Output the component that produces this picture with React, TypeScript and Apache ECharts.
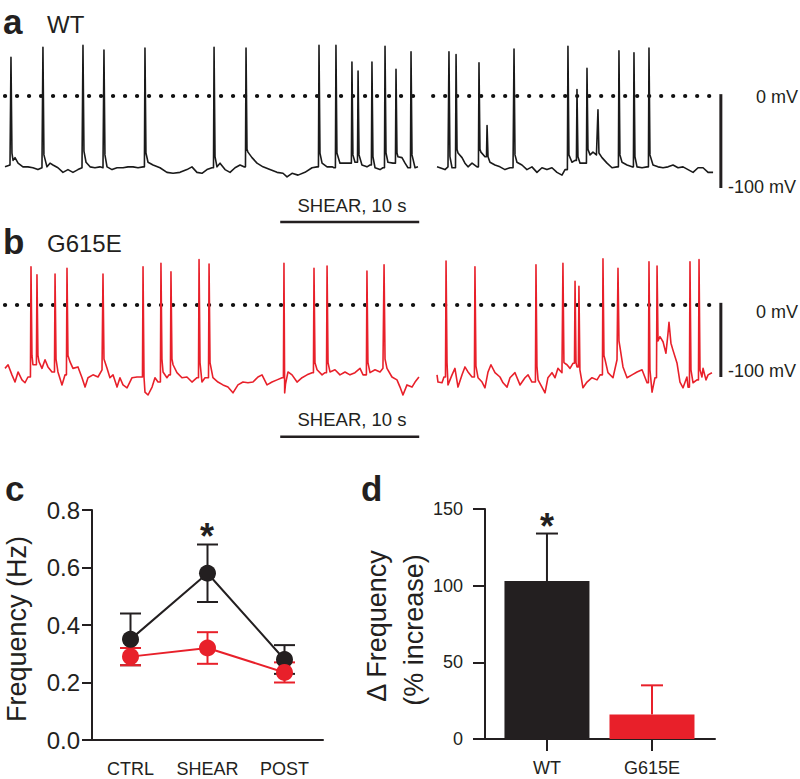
import React, { useEffect, useRef } from "react";
import * as echarts from "echarts";

const FONT = "'Liberation Sans', Arial, Helvetica, sans-serif";
const INK = "#231f20";
const RED = "#e8202a";

// ---- Panel a: WT membrane potential, [time (s), mV] ----
const wtTraceShear = [
  [0.00,-77],[0.36,-75],[0.40,-75],[0.43,42],[0.50,-62],[0.58,-70],[0.72,-67],[0.94,-73],[1.29,-77],[1.65,-77],[2.01,-78],[2.37,-80],[2.66,-78],
  [2.70,-78],[2.73,53],[2.80,-64],[3.02,-77],[3.24,-73],[3.45,-75],[3.81,-78],[4.17,-83],[4.53,-80],[4.89,-83],[5.25,-80],[5.54,-78],
  [5.58,-78],[5.61,55],[5.68,-60],[5.83,-72],[6.12,-77],[6.47,-78],[6.83,-77],[7.05,-78],
  [7.09,-78],[7.12,50],[7.19,-64],[7.34,-77],[7.70,-80],[8.06,-78],[8.49,-78],[8.85,-77],[9.21,-77],[9.57,-78],[9.93,-77],
  [10.03,-77],[10.07,52],[10.14,-62],[10.29,-72],[10.65,-75],[11.15,-78],[11.65,-83],[12.09,-84],[12.59,-83],[13.09,-80],[13.45,-77],[13.81,-83],[14.17,-84],[14.53,-80],[14.89,-78],
  [15.00,-78],[15.04,53],[15.11,-66],[15.25,-77],[15.47,-73],[15.83,-80],[16.19,-83],[16.55,-78],[16.91,-75],[17.19,-77],
  [17.30,-77],[17.34,52],[17.41,-58],[17.48,-61],[17.77,-67],[18.13,-73],[18.56,-77],[19.06,-80],[19.57,-83],[20.00,-84],[20.29,-88],[20.65,-84],[21.08,-86],[21.58,-83],[22.09,-78],[22.45,-77],
  [22.55,-77],[22.59,55],[22.66,-62],[22.81,-73],[23.17,-77],[23.53,-77],[23.67,-78],
  [23.77,-78],[23.81,55],[23.88,-62],[24.10,-73],[24.46,-73],[24.82,-73],
  [24.92,-73],[24.96,37],[25.03,-64],[25.18,-72],[25.36,-72],[25.40,27],[25.47,-64],[25.68,-75],[26.04,-77],[26.26,-75],
  [26.36,-75],[26.40,37],[26.47,-66],[26.62,-78],[26.98,-80],[27.19,-78],
  [27.30,-78],[27.34,54],[27.41,-62],[27.55,-72],[27.91,-73],
  [28.09,-73],[28.13,29],[28.20,-62],[28.27,-66],[28.56,-67],[28.78,-73],[28.99,-78],
  [29.17,-78],[29.21,48],[29.28,-64],[29.50,-78],[29.71,-77]
];
const wtTracePost = [
  [31.08,-77],[31.29,-78],[31.65,-80],[31.87,-77],[31.90,-77],[31.94,48],[32.01,-66],[32.16,-78],[32.41,-78],[32.45,45],[32.52,-58],[32.59,-62],[32.88,-67],[33.09,-73],[33.31,-77],[33.60,-73],[33.96,-77],
  [34.06,-77],[34.10,36],[34.17,-58],[34.24,-61],[34.53,-66],[34.64,-66],[34.68,-32],[34.75,-66],[34.89,-72],[35.25,-75],[35.61,-77],[35.97,-80],[36.33,-78],[36.55,-78],
  [36.58,-78],[36.62,51],[36.69,-64],[36.83,-72],[37.19,-75],[37.55,-80],[37.91,-77],[38.27,-83],[38.63,-78],[38.99,-80],[39.35,-78],[39.71,-83],[40.07,-86],[40.29,-80],
  [40.46,-80],[40.50,54],[40.57,-64],[40.79,-72],[41.01,-70],[41.11,-70],[41.15,7],[41.22,-66],[41.37,-73],[41.73,-73],
  [41.83,-73],[41.87,30],[41.94,-58],[42.09,-64],[42.30,-61],[42.55,-64],[42.59,-64],[42.66,-15],[42.73,-62],[42.95,-67],[43.31,-73],[43.67,-78],[44.03,-77],
  [44.13,-77],[44.17,49],[44.24,-64],[44.39,-72],[44.75,-75],[45.11,-77],
  [45.21,-77],[45.25,47],[45.32,-66],[45.47,-77],[45.83,-78],[46.19,-77],
  [46.29,-77],[46.33,52],[46.40,-64],[46.62,-75],[46.98,-77],[47.34,-78],[47.70,-77],[48.06,-75],[48.42,-78],[48.78,-77],[49.14,-80],[49.50,-83],[49.86,-78],[50.22,-78],[50.58,-83],[50.94,-83]
];

// ---- Panel b: G615E membrane potential, [time (s), mV] ----
const g615eTraceShear = [
  [0.00,-88],[0.22,-83],[0.50,-97],[0.72,-107],[0.94,-93],[1.22,-104],[1.44,-108],[1.65,-100],
  [1.83,-100],[1.87,53],[1.94,-70],[2.01,-83],
  [2.26,-83],[2.30,42],[2.37,-70],[2.45,-79],[2.66,-88],[2.88,-76],[3.09,-86],[3.38,-93],
  [3.56,-93],[3.60,43],[3.67,-75],[3.81,-93],[4.10,-111],[4.32,-97],
  [4.42,-97],[4.46,51],[4.53,-70],[4.68,-79],[4.89,-88],[5.25,-86],[5.54,-101],[5.76,-114],[5.97,-101],[6.33,-97],[6.69,-100],[6.98,-90],
  [7.01,-90],[7.05,43],[7.12,-75],[7.34,-88],[7.55,-101],[7.77,-97],[8.06,-114],[8.27,-101],[8.49,-111],[8.78,-115],[9.14,-101],[9.50,-100],[9.71,-100],
  [9.89,-100],[9.93,53],[10.00,-100],[10.07,-121],[10.29,-125],[10.58,-114],[10.79,-101],[11.01,-107],
  [11.18,-107],[11.22,58],[11.29,-75],[11.37,-93],[11.65,-101],[11.80,-97],
  [11.90,-97],[11.94,46],[12.01,-75],[12.09,-83],[12.37,-94],[12.73,-101],[13.09,-100],[13.45,-107],[13.81,-101],
  [13.92,-101],[13.96,63],[14.03,-80],[14.17,-107],[14.39,-101],
  [14.64,-101],[14.68,57],[14.75,-80],[14.96,-101],[15.32,-107],[15.68,-111],[16.04,-114],[16.40,-122],[16.76,-111],[17.12,-107],[17.48,-108],[17.84,-107],[18.20,-100],[18.49,-97],[18.85,-111],[19.21,-107],[19.57,-104],[19.93,-101],
  [20.03,-101],[20.07,58],[20.12,-122],[20.18,-110],[20.36,-93],[20.65,-97],[21.01,-107],[21.37,-101],[21.73,-97],[22.09,-94],
  [22.19,-94],[22.23,51],[22.30,-80],[22.45,-90],[22.81,-97],[23.02,-94],
  [23.13,-94],[23.17,54],[23.24,-80],[23.38,-93],[23.74,-90],[24.10,-97],[24.46,-93],[24.82,-97],[25.18,-94],[25.54,-88],[25.76,-97],
  [26.00,-97],[26.04,47],[26.11,-80],[26.26,-94],[26.62,-90],[26.98,-93],[27.19,-88],
  [27.23,-88],[27.27,56],[27.34,-75],[27.48,-88],[27.84,-100],[28.20,-104],[28.42,-114],[28.63,-125],[28.92,-111],[29.28,-114],[29.50,-107],[29.78,-100]
];
const g615eTracePost = [
  [31.08,-97],[31.15,-107],[31.44,-108],[31.58,-100],[31.69,-100],[31.73,61],[31.80,-80],[31.87,-111],[32.16,-97],[32.37,-88],[32.59,-114],[32.88,-97],[33.09,-86],[33.31,-93],[33.60,-100],
  [33.77,-100],[33.81,53],[33.88,-85],[34.03,-101],[34.32,-107],[34.53,-115],[34.75,-93],[34.96,-83],[35.25,-94],[35.61,-100],[35.83,-108],[36.12,-114],[36.33,-101],[36.69,-94],[37.05,-111],[37.41,-101],[37.63,-97],[37.91,-107],
  [38.16,-107],[38.20,56],[38.27,-85],[38.35,-104],[38.63,-114],[38.85,-122],[39.06,-101],[39.35,-94],[39.57,-101],[39.78,-88],[40.07,-94],
  [40.10,-94],[40.14,58],[40.21,-80],[40.43,-83],[40.65,-88],[40.86,-81],
  [40.97,-81],[41.01,33],[41.08,-80],[41.15,-86],[41.25,-86],[41.29,26],[41.36,-90],[41.58,-115],[41.87,-107],[42.23,-101],[42.59,-104],[42.81,-97],
  [42.98,-97],[43.02,64],[43.09,-70],[43.17,-76],[43.38,-94],[43.74,-101],[44.03,-76],
  [44.06,-76],[44.10,51],[44.17,-50],[44.24,-58],[44.46,-86],[44.75,-101],[45.11,-97],[45.47,-93],[45.83,-90],[46.19,-108],
  [46.29,-108],[46.33,60],[46.40,-90],[46.55,-121],[46.76,-101],
  [46.87,-101],[46.91,54],[46.98,-50],[47.12,-44],[47.34,-51],[47.55,-67],[47.70,-39],[47.77,-24],[47.91,-53],[48.06,-63],[48.35,-81],[48.56,-107],[48.78,-115],[49.06,-100],[49.14,-114],
  [49.24,-114],[49.28,60],[49.35,-90],[49.50,-108],[49.78,-104],
  [49.89,-104],[49.93,63],[50.00,-90],[50.14,-100],[50.22,-88],[50.43,-104],[50.58,-97],[50.86,-94]
];

const dottedSegments = [[0, 29.7], [30.8, 50.9]]; // 0 mV reference, seconds
const shearWindow = [19.8, 29.8]; // 10 s shear
const scaleBarTime = 51.5;
const scaleBarMv = [0, -100];

// ---- Panel c ----
const freqCategories = ["CTRL", "SHEAR", "POST"];
const wtFreqMean = [0.35, 0.58, 0.28];
const wtFreqSem = [0.09, 0.10, 0.05];
const g615eFreqMean = [0.29, 0.32, 0.235];
const g615eFreqSem = [0.03, 0.055, 0.035];
const freqTicks = [0, 0.2, 0.4, 0.6, 0.8];

// ---- Panel d ----
const deltaGroups = ["WT", "G615E"];
const deltaMean = [103, 16];
const deltaSem = [31, 19];
const deltaTicks = [0, 50, 100, 150];

function errorBars(means: number[], sems: number[], color: string, xs: number[], both: boolean, capHalf: number, xIdx: number, yIdx: number, colors?: string[]) {
  return {
    type: "custom",
    xAxisIndex: xIdx,
    yAxisIndex: yIdx,
    z: 3,
    data: means.map((m, i) => [xs[i], m - (both ? sems[i] : 0), m + sems[i]]),
    renderItem: (params: any, api: any) => {
      const x = api.value(0);
      const lo = api.coord([x, api.value(1)]);
      const hi = api.coord([x, api.value(2)]);
      const c = colors ? colors[params.dataIndex] : color;
      const st = { stroke: c, lineWidth: 2 };
      const children: any[] = [
        { type: "line", shape: { x1: lo[0], y1: lo[1], x2: hi[0], y2: hi[1] }, style: st },
        { type: "line", shape: { x1: hi[0] - capHalf, y1: hi[1], x2: hi[0] + capHalf, y2: hi[1] }, style: st },
      ];
      if (both) children.push({ type: "line", shape: { x1: lo[0] - capHalf, y1: lo[1], x2: lo[0] + capHalf, y2: lo[1] }, style: st });
      return { type: "group", children };
    },
  };
}

function traceSeries(data: number[][], color: string, idx: number) {
  return {
    type: "line", xAxisIndex: idx, yAxisIndex: idx, data, showSymbol: false, symbol: "none",
    lineStyle: { color, width: 1.6, join: "round" }, z: 3, silent: true,
  };
}

function dotted(seg: number[], idx: number) {
  return {
    type: "line", xAxisIndex: idx, yAxisIndex: idx, data: [[seg[0], 0], [seg[1], 0]], symbol: "none",
    lineStyle: { color: "#111", width: 4.2, type: [0.1, 11.9], cap: "round" }, z: 2, silent: true,
  };
}

function bar(data: number[][], width: number, idx: number) {
  return {
    type: "line", xAxisIndex: idx, yAxisIndex: idx, data, symbol: "none", clip: false,
    lineStyle: { color: INK, width, cap: "butt" }, z: 2, silent: true,
  };
}

const txt = (text: string, x: number, y: number, size: number, opts: any = {}) => ({
  type: "text", x, y, rotation: opts.rotation || 0,
  style: {
    text, fill: opts.fill || INK, font: `${opts.bold ? "bold " : ""}${size}px ${FONT}`,
    align: opts.align || "left", verticalAlign: "middle",
  },
});

export default function App() {
  const ref = useRef<HTMLDivElement>(null);
  useEffect(() => {
    const chart = echarts.init(ref.current!, null, { renderer: "svg" });
    const hidden = { show: false };
    const option: any = {
      animation: false,
      backgroundColor: "#fff",
      grid: [
        { left: 5, top: 40.8, width: 736.7, height: 193.2 },
        { left: 5, top: 251, width: 736.7, height: 190.8 },
        { left: 92, top: 510, width: 231, height: 230 },
        { left: 485, top: 509, width: 230, height: 230 },
      ],
      xAxis: [
        { gridIndex: 0, type: "value", min: 0, max: 53, ...hidden },
        { gridIndex: 1, type: "value", min: 0, max: 53, ...hidden },
        {
          gridIndex: 2, type: "category", data: freqCategories, boundaryGap: true,
          axisLine: { lineStyle: { color: INK, width: 2 } },
          axisTick: { alignWithLabel: true, interval: 0, length: 12, lineStyle: { color: INK, width: 2 } },
          axisLabel: { color: INK, fontSize: 18, fontFamily: FONT, margin: 20, interval: 0, hideOverlap: false },
        },
        {
          gridIndex: 3, type: "value", min: 0.41, max: 2.6,
          axisLine: { show: true, lineStyle: { color: INK, width: 2 } },
          axisTick: { show: true, customValues: [1, 2], length: 12, lineStyle: { color: INK, width: 2 } },
          axisLabel: {
            customValues: [1, 2], color: INK, fontSize: 18, fontFamily: FONT, margin: 20,
            formatter: (v: number) => deltaGroups[Math.round(v) - 1] || "",
          },
          splitLine: { show: false },
        },
      ],
      yAxis: [
        { gridIndex: 0, type: "value", min: -150, max: 60, ...hidden },
        { gridIndex: 1, type: "value", min: -190, max: 75, ...hidden },
        {
          gridIndex: 2, type: "value", min: freqTicks[0], max: freqTicks[freqTicks.length - 1], interval: 0.2,
          axisLine: { show: true, lineStyle: { color: INK, width: 2 } },
          axisTick: { show: true, length: 10, lineStyle: { color: INK, width: 2 } },
          axisLabel: { color: INK, fontSize: 24, fontFamily: FONT, margin: 12, formatter: (v: number) => v.toFixed(1) },
          splitLine: { show: false },
        },
        {
          gridIndex: 3, type: "value", min: deltaTicks[0], max: deltaTicks[deltaTicks.length - 1], interval: 50,
          axisLine: { show: true, lineStyle: { color: INK, width: 2 } },
          axisTick: { show: true, length: 12, lineStyle: { color: INK, width: 2 } },
          axisLabel: { color: INK, fontSize: 18, fontFamily: FONT, margin: 22 },
          splitLine: { show: false },
        },
      ],
      series: [
        dotted(dottedSegments[0], 0), dotted(dottedSegments[1], 0),
        dotted(dottedSegments[0], 1), dotted(dottedSegments[1], 1),
        traceSeries(wtTraceShear, "#1a1a1a", 0),
        traceSeries(wtTracePost, "#1a1a1a", 0),
        traceSeries(g615eTraceShear, RED, 1),
        traceSeries(g615eTracePost, RED, 1),
        bar([[scaleBarTime, scaleBarMv[0] + 2], [scaleBarTime, scaleBarMv[1]]], 3, 0),
        bar([[scaleBarTime, scaleBarMv[0] + 3], [scaleBarTime, scaleBarMv[1]]], 3, 1),
        bar([[shearWindow[0], -137], [shearWindow[1], -137]], 2.5, 0),
        bar([[shearWindow[0], -183], [shearWindow[1], -183]], 2.5, 1),
        // panel c
        errorBars(wtFreqMean, wtFreqSem, INK, [0, 1, 2], true, 10.5, 2, 2),
        {
          type: "line", xAxisIndex: 2, yAxisIndex: 2, data: wtFreqMean, symbol: "circle", symbolSize: 17,
          itemStyle: { color: INK }, lineStyle: { color: INK, width: 2 }, z: 4,
        },
        errorBars(g615eFreqMean, g615eFreqSem, RED, [0, 1, 2], true, 10.5, 2, 2),
        {
          type: "line", xAxisIndex: 2, yAxisIndex: 2, data: g615eFreqMean, symbol: "circle", symbolSize: 17,
          itemStyle: { color: RED }, lineStyle: { color: RED, width: 2 }, z: 4,
        },
        // panel d
        {
          type: "bar", xAxisIndex: 3, yAxisIndex: 3, barWidth: 85,
          data: deltaMean.map((v, i) => ({ value: [i + 1, v], itemStyle: { color: i === 0 ? INK : RED } })),
        },
        errorBars(deltaMean, deltaSem, INK, [1, 2], false, 11, 3, 3, [INK, RED]),
      ],
      graphic: [
        txt("a", 3, 21.6, 35, { bold: true }),
        txt("WT", 47, 24.7, 24),
        txt("b", 3, 241.6, 35, { bold: true }),
        txt("G615E", 47, 243.7, 24),
        txt("c", 5, 488.6, 35, { bold: true }),
        txt("d", 361, 488.6, 35, { bold: true }),
        txt("SHEAR, 10 s", 352, 205, 18.5, { align: "center" }),
        txt("SHEAR, 10 s", 352, 419, 18.5, { align: "center" }),
        txt("0 mV", 756, 97, 18),
        txt("-100 mV", 728, 187, 18),
        txt("0 mV", 756, 312, 18),
        txt("-100 mV", 728, 371, 18),
        txt("Frequency (Hz)", 17, 629, 27, { rotation: Math.PI / 2, align: "center" }),
        txt("\u0394 Frequency", 377, 626, 27, { rotation: Math.PI / 2, align: "center" }),
        txt("(% increase)", 414, 630, 27, { rotation: Math.PI / 2, align: "center" }),
        txt("*", 207, 536, 36, { bold: true, align: "center" }),
        txt("*", 547, 526, 36, { bold: true, align: "center" }),
      ],
    };
    chart.setOption(option);
    return () => chart.dispose();
  }, []);
  return <div ref={ref} style={{ position: "absolute", left: 0, top: 0, width: 800, height: 779 }} />;
}
